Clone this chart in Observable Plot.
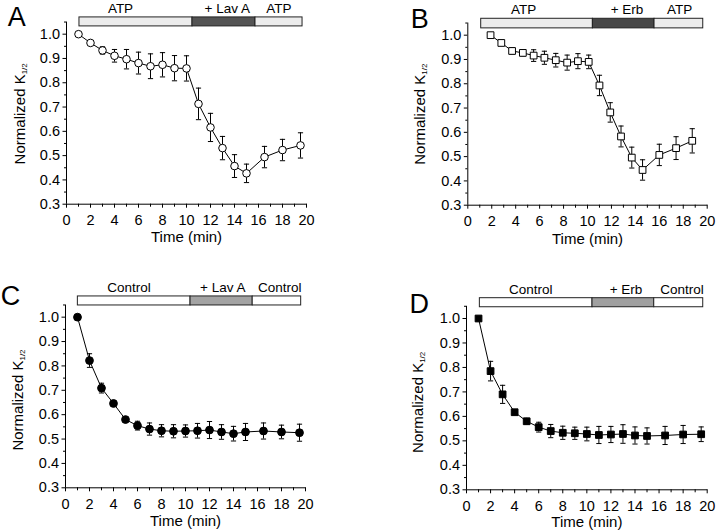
<!DOCTYPE html>
<html>
<head>
<meta charset="utf-8">
<script src="https://cdn.jsdelivr.net/npm/d3@7"></script>
<script src="https://cdn.jsdelivr.net/npm/@observablehq/plot@0.6"></script>
<style>
  html, body { margin: 0; padding: 0; background: #fff; }
  #wrap { position: relative; width: 720px; height: 532px; overflow: hidden; background: #fff; }
  .panel { position: absolute; width: 360px; height: 266px; }
</style>
</head>
<body>
<div id="wrap"></div>
<script>
// ---------- data ----------
const timeA = [1, 2, 3, 4, 5, 6, 7, 8, 9, 10, 11, 12, 13, 14, 15, 16.5, 18, 19.5];
const meanA = [1.00, 0.964, 0.933, 0.911, 0.897, 0.881, 0.868, 0.874, 0.860, 0.859, 0.713, 0.616, 0.531, 0.457, 0.427, 0.494, 0.523, 0.542];
const semA  = [0, 0.008, 0.015, 0.026, 0.040, 0.045, 0.051, 0.050, 0.052, 0.052, 0.065, 0.058, 0.048, 0.047, 0.038, 0.044, 0.044, 0.052];

const timeB = [1.9, 2.8, 3.7, 4.6, 5.5, 6.4, 7.35, 8.3, 9.2, 10.1, 11.0, 11.9, 12.8, 13.7, 14.6, 16.0, 17.4, 18.75];
const meanB = [1.00, 0.968, 0.935, 0.927, 0.916, 0.907, 0.897, 0.887, 0.893, 0.890, 0.793, 0.682, 0.583, 0.496, 0.445, 0.507, 0.535, 0.565];
const semB  = [0, 0.008, 0.012, 0.012, 0.024, 0.027, 0.028, 0.031, 0.031, 0.028, 0.042, 0.040, 0.043, 0.043, 0.042, 0.044, 0.047, 0.050];

const timeC = [1, 2, 3, 4, 5, 6, 7, 8, 9, 10, 11, 12, 13, 14, 15, 16.5, 18, 19.5];
const meanC = [1.00, 0.822, 0.709, 0.646, 0.580, 0.555, 0.541, 0.534, 0.532, 0.533, 0.534, 0.537, 0.529, 0.522, 0.529, 0.533, 0.529, 0.526];
const semC  = [0, 0.028, 0.020, 0.010, 0.010, 0.018, 0.025, 0.025, 0.027, 0.025, 0.030, 0.035, 0.030, 0.030, 0.035, 0.033, 0.028, 0.035];

const timeD = [1, 2, 3, 4, 5, 6, 7, 8, 9, 10, 11, 12, 13, 14, 15, 16.5, 18, 19.5];
const meanD = [1.00, 0.785, 0.690, 0.617, 0.580, 0.556, 0.540, 0.533, 0.531, 0.528, 0.524, 0.526, 0.528, 0.522, 0.520, 0.522, 0.526, 0.527];
const semD  = [0, 0.040, 0.037, 0.010, 0.012, 0.020, 0.027, 0.027, 0.025, 0.028, 0.035, 0.033, 0.038, 0.035, 0.033, 0.037, 0.037, 0.030];

// treatment periods (minutes) and their labels
const periodEdgesA = [1.08, 10.5, 15.75, 19.67];
const periodEdgesB = [1.12, 10.45, 15.6, 19.67];
const periodEdgesC = [1.03, 10.42, 15.6, 19.64];
const periodEdgesD = [1.11, 10.47, 15.6, 19.67];
const periodLabelsA = ["ATP", "+ Lav A", "ATP"];
const periodLabelsB = ["ATP", "+ Erb", "ATP"];
const periodLabelsC = ["Control", "+ Lav A", "Control"];
const periodLabelsD = ["Control", "+ Erb", "Control"];
const labelTimesA = [4.5, 13.4, 17.7];
const labelTimesB = [4.67, 13.3, 17.7];
const labelTimesC = [5.3, 13.1, 17.85];
const labelTimesD = [5.33, 13.25, 17.9];

// tick values
const xMajorTicks = [0, 2, 4, 6, 8, 10, 12, 14, 16, 18, 20];
const xMinorTicks = [1, 3, 5, 7, 9, 11, 13, 15, 17, 19];
const yMajorTicks = [0.3, 0.4, 0.5, 0.6, 0.7, 0.8, 0.9, 1.0];
const yMinorTicks = [0.35, 0.45, 0.55, 0.65, 0.75, 0.85, 0.95, 1.05];

// ---------- drawing ----------
const FONT = '"Liberation Sans", Arial, Helvetica, sans-serif';
const capSymbol = { draw(ctx) { ctx.moveTo(-2.6, 0); ctx.lineTo(2.6, 0); } };

const panels = [
  { letter: "A", left: 0, top: 0, time: timeA, mean: meanA, sem: semA, edges: periodEdgesA, labels: periodLabelsA, labelTimes: labelTimesA,
    fills: ["#ececec", "#545454", "#ececec"], symbol: "circle", r: 3.8, dotFill: "white",
    mL: 66, mR: 54, mT: 2.1, mB: 62.3, yTop: 1.13, bar: [1.032, 1.069], labelY: 1.105, titleDy: 33,
    letterPos: [16.7, 26], ylab: [25, 113.8] },
  { letter: "B", left: 360, top: 0, time: timeB, mean: meanB, sem: semB, edges: periodEdgesB, labels: periodLabelsB, labelTimes: labelTimesB,
    fills: ["#ececec", "#474747", "#ececec"], symbol: "square", r: 3.8, dotFill: "white",
    mL: 107.3, mR: 13.3, mT: 3.1, mB: 61.3, yTop: 1.13, bar: [1.028, 1.0675], labelY: 1.105, titleDy: 34,
    letterPos: [59.8, 28], ylab: [65, 114.2] },
  { letter: "C", left: 0, top: 266, time: timeC, mean: meanC, sem: semC, edges: periodEdgesC, labels: periodLabelsC, labelTimes: labelTimesC,
    fills: ["#ffffff", "#a3a3a3", "#ffffff"], symbol: "circle", r: 3.9, dotFill: "black",
    mL: 65, mR: 55, mT: 14.1, mB: 44.7, yTop: 1.15, bar: [1.048, 1.085], labelY: 1.123, titleDy: 33,
    letterPos: [10.5, 39], ylab: [22.7, 134] },
  { letter: "D", left: 360, top: 266, time: timeD, mean: meanD, sem: semD, edges: periodEdgesD, labels: periodLabelsD, labelTimes: labelTimesD,
    fills: ["#ffffff", "#a0a0a0", "#ffffff"], symbol: "square", r: 3.8, dotFill: "black",
    mL: 106, mR: 13.3, mT: 15.3, mB: 42.7, yTop: 1.15, bar: [1.046, 1.083], labelY: 1.119, titleDy: 32.5,
    letterPos: [59.3, 46.5], ylab: [63, 136.3] }
];

const wrap = document.getElementById("wrap");

for (const cfg of panels) {
  const rows = cfg.time.map((t, i) => ({ t, m: cfg.mean[i], e: cfg.sem[i] }));
  const errRows = rows.filter(d => d.e > 0);
  const caps = errRows.flatMap(d => [{ t: d.t, y: d.m - d.e }, { t: d.t, y: d.m + d.e }]);
  const segs = cfg.fills.map((f, i) => ({ x1: cfg.edges[i], x2: cfg.edges[i + 1], fill: f }));
  const labs = cfg.labels.map((s, i) => ({ x: cfg.labelTimes[i], s }));

  const svg = Plot.plot({
    width: 360, height: 266,
    marginLeft: cfg.mL, marginRight: cfg.mR, marginTop: cfg.mT, marginBottom: cfg.mB,
    x: { domain: [0, 20] },
    y: { domain: [0.3, cfg.yTop] },
    style: { fontFamily: FONT, fontSize: "14.5px", color: "black", background: "transparent", overflow: "visible" },
    marks: [
      Plot.rect(segs, { x1: "x1", x2: "x2", y1: cfg.bar[0], y2: cfg.bar[1], fill: "fill", stroke: "#222", strokeWidth: 1 }),
      Plot.text(labs, { x: "x", y: cfg.labelY, text: "s", fontSize: 13.5, lineAnchor: "middle", fill: "black" }),
      Plot.ruleX([0], { y1: 0.3, y2: 1.05, stroke: "black", strokeWidth: 1 }),
      Plot.ruleY([0.3], { x1: 0, x2: 20.05, stroke: "black", strokeWidth: 1 }),
      Plot.axisY({ ticks: yMajorTicks, tickSize: 3.5, tickPadding: 3, tickFormat: d3.format(".1f"), label: null }),
      Plot.axisY({ ticks: yMinorTicks, tickSize: 2, tickPadding: 0, tickFormat: () => "", label: null }),
      Plot.axisX({ ticks: xMajorTicks, tickSize: 4, tickPadding: 6.5, tickFormat: d => String(d), label: null }),
      Plot.axisX({ ticks: xMinorTicks, tickSize: 3, tickPadding: 0, tickFormat: () => "", label: null }),
      Plot.text(["Time (min)"], { x: 10, y: 0.3, dy: cfg.titleDy, lineAnchor: "middle", fontSize: 15, fill: "black" }),
      Plot.ruleX(errRows, { x: "t", y1: d => d.m - d.e, y2: d => d.m + d.e, stroke: "black", strokeWidth: 1 }),
      Plot.dot(caps, { x: "t", y: "y", symbol: capSymbol, stroke: "black", fill: "none", strokeWidth: 1 }),
      Plot.line(rows, { x: "t", y: "m", stroke: "black", strokeWidth: 1 }),
      Plot.dot(rows, { x: "t", y: "m", symbol: cfg.symbol, r: cfg.r, fill: cfg.dotFill, stroke: "black", strokeWidth: 1 })
    ]
  });

  const s = d3.select(svg);
  // y-axis title with subscript
  const yt = s.append("text")
    .attr("transform", `translate(${cfg.ylab[0]},${cfg.ylab[1]}) rotate(-90)`)
    .attr("text-anchor", "middle")
    .attr("font-size", 15)
    .attr("fill", "black");
  yt.append("tspan").text("Normalized K");
  yt.append("tspan").attr("font-size", 8).attr("dy", 2).text("1/2");
  // panel letter
  s.append("text")
    .attr("x", cfg.letterPos[0]).attr("y", cfg.letterPos[1])
    .attr("text-anchor", "middle")
    .attr("font-size", 27)
    .attr("fill", "black")
    .text(cfg.letter);

  const div = document.createElement("div");
  div.className = "panel";
  div.style.left = cfg.left + "px";
  div.style.top = cfg.top + "px";
  div.appendChild(svg);
  wrap.appendChild(div);
}
</script>
</body>
</html>
